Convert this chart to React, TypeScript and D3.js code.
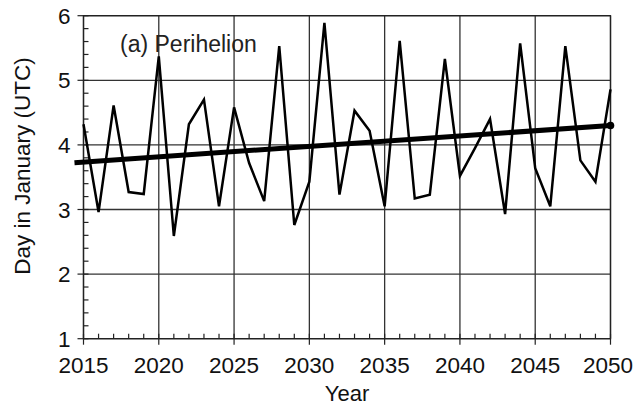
import React, { useEffect, useRef } from 'react';
import * as d3 from 'd3';

// perihelion day in January (UTC), one value per year
const years = d3.range(2015, 2051);
const perihelion = [
  4.32, 2.96, 4.61, 3.27, 3.24, 5.37, 2.59, 4.32, 4.70, 3.05,
  4.58, 3.72, 3.13, 5.53, 2.76, 3.43, 5.89, 3.23, 4.53, 4.22,
  3.05, 5.61, 3.17, 3.23, 5.33, 3.52, 3.95, 4.40, 2.93, 5.57,
  3.64, 3.05, 5.53, 3.76, 3.43, 4.86,
];
// linear trend endpoints [year, day]
const trend: [number, number][] = [[2014.4, 3.725], [2050, 4.30]];
const xTicks = d3.range(2015, 2051, 5);
const yTicks = [1, 2, 3, 4, 5, 6];

const W = 634;
const H = 408;
const margin = { top: 15.7, right: 23.5, bottom: 69.3, left: 83.5 };
const font = '"Liberation Sans", Arial, Helvetica, sans-serif';

const App: React.FC = () => {
  const svgRef = useRef<SVGSVGElement>(null);

  useEffect(() => {
    if (!svgRef.current) return;
    const svg = d3.select(svgRef.current);
    svg.selectAll('*').remove();

    const x = d3.scaleLinear().domain([2015, 2050]).range([margin.left, W - margin.right]);
    const y = d3.scaleLinear().domain([1, 6]).range([H - margin.bottom, margin.top]);
    const [x0, x1] = x.range();
    const [y0, y1] = y.range();

    // grid
    const grid = svg.append('g').attr('stroke', '#333').attr('stroke-width', 1.3);
    grid.selectAll('.gx').data(xTicks).enter().append('line')
      .attr('x1', d => x(d)).attr('x2', d => x(d)).attr('y1', y1).attr('y2', y0);
    grid.selectAll('.gy').data(yTicks).enter().append('line')
      .attr('x1', x0).attr('x2', x1).attr('y1', d => y(d)).attr('y2', d => y(d));

    // minor ticks
    const ticks = svg.append('g').attr('stroke', '#222').attr('stroke-width', 1.2);
    ticks.selectAll('.mx').data(years).enter().append('line')
      .attr('x1', d => x(d)).attr('x2', d => x(d)).attr('y1', y0).attr('y2', y0 - 5);
    ticks.selectAll('.my').data(d3.range(1, 6.001, 0.2)).enter().append('line')
      .attr('x1', x0).attr('x2', x0 + 5).attr('y1', d => y(d)).attr('y2', d => y(d));
    // major ticks (outward)
    ticks.selectAll('.Mx').data(xTicks).enter().append('line')
      .attr('x1', d => x(d)).attr('x2', d => x(d)).attr('y1', y0).attr('y2', y0 + 6);
    ticks.selectAll('.My').data(yTicks).enter().append('line')
      .attr('x1', x0 - 6).attr('x2', x0).attr('y1', d => y(d)).attr('y2', d => y(d));

    // frame
    svg.append('rect')
      .attr('x', x0).attr('y', y1).attr('width', x1 - x0).attr('height', y0 - y1)
      .attr('fill', 'none').attr('stroke', '#222').attr('stroke-width', 1.3);

    // data line
    const line = d3.line<number>().x((_, i) => x(years[i])).y(d => y(d));
    svg.append('path')
      .datum(perihelion)
      .attr('fill', 'none')
      .attr('stroke', '#000')
      .attr('stroke-width', 2.5)
      .attr('stroke-linejoin', 'miter')
      .attr('d', line);

    // trend
    svg.append('line')
      .attr('x1', x(trend[0][0])).attr('y1', y(trend[0][1]))
      .attr('x2', x(trend[1][0])).attr('y2', y(trend[1][1]))
      .attr('stroke', '#000').attr('stroke-width', 5);
    svg.append('circle')
      .attr('cx', x(trend[1][0])).attr('cy', y(trend[1][1])).attr('r', 3.8).attr('fill', '#000');

    // labels
    const text = svg.append('g').attr('font-family', font).attr('fill', '#111');
    text.selectAll('.lx').data(xTicks).enter().append('text')
      .attr('x', d => (d === 2050 ? W - 1 : x(d)))
      .attr('y', y0 + 34.5)
      .attr('text-anchor', d => (d === 2050 ? 'end' : 'middle'))
      .attr('font-size', 22.5)
      .text(d => d);
    text.selectAll('.ly').data(yTicks).enter().append('text')
      .attr('x', x0 - 13).attr('y', d => y(d) + 8)
      .attr('text-anchor', 'end').attr('font-size', 22.5)
      .text(d => d);
    text.append('text')
      .attr('x', (x0 + x1) / 2).attr('y', 401)
      .attr('text-anchor', 'middle').attr('font-size', 22)
      .text('Year');
    text.append('text')
      .attr('transform', 'translate(29.5,166) rotate(-90)')
      .attr('text-anchor', 'middle').attr('font-size', 22.5)
      .text('Day in January (UTC)');
    text.append('text')
      .attr('x', 120).attr('y', 52)
      .attr('font-size', 23).attr('fill', '#222')
      .text('(a) Perihelion');
  }, []);

  return (
    <svg
      ref={svgRef}
      width={W}
      height={H}
      viewBox={`0 0 ${W} ${H}`}
      style={{ position: 'absolute', left: 0, top: 0, background: '#fff' }}
    />
  );
};

export default App;
